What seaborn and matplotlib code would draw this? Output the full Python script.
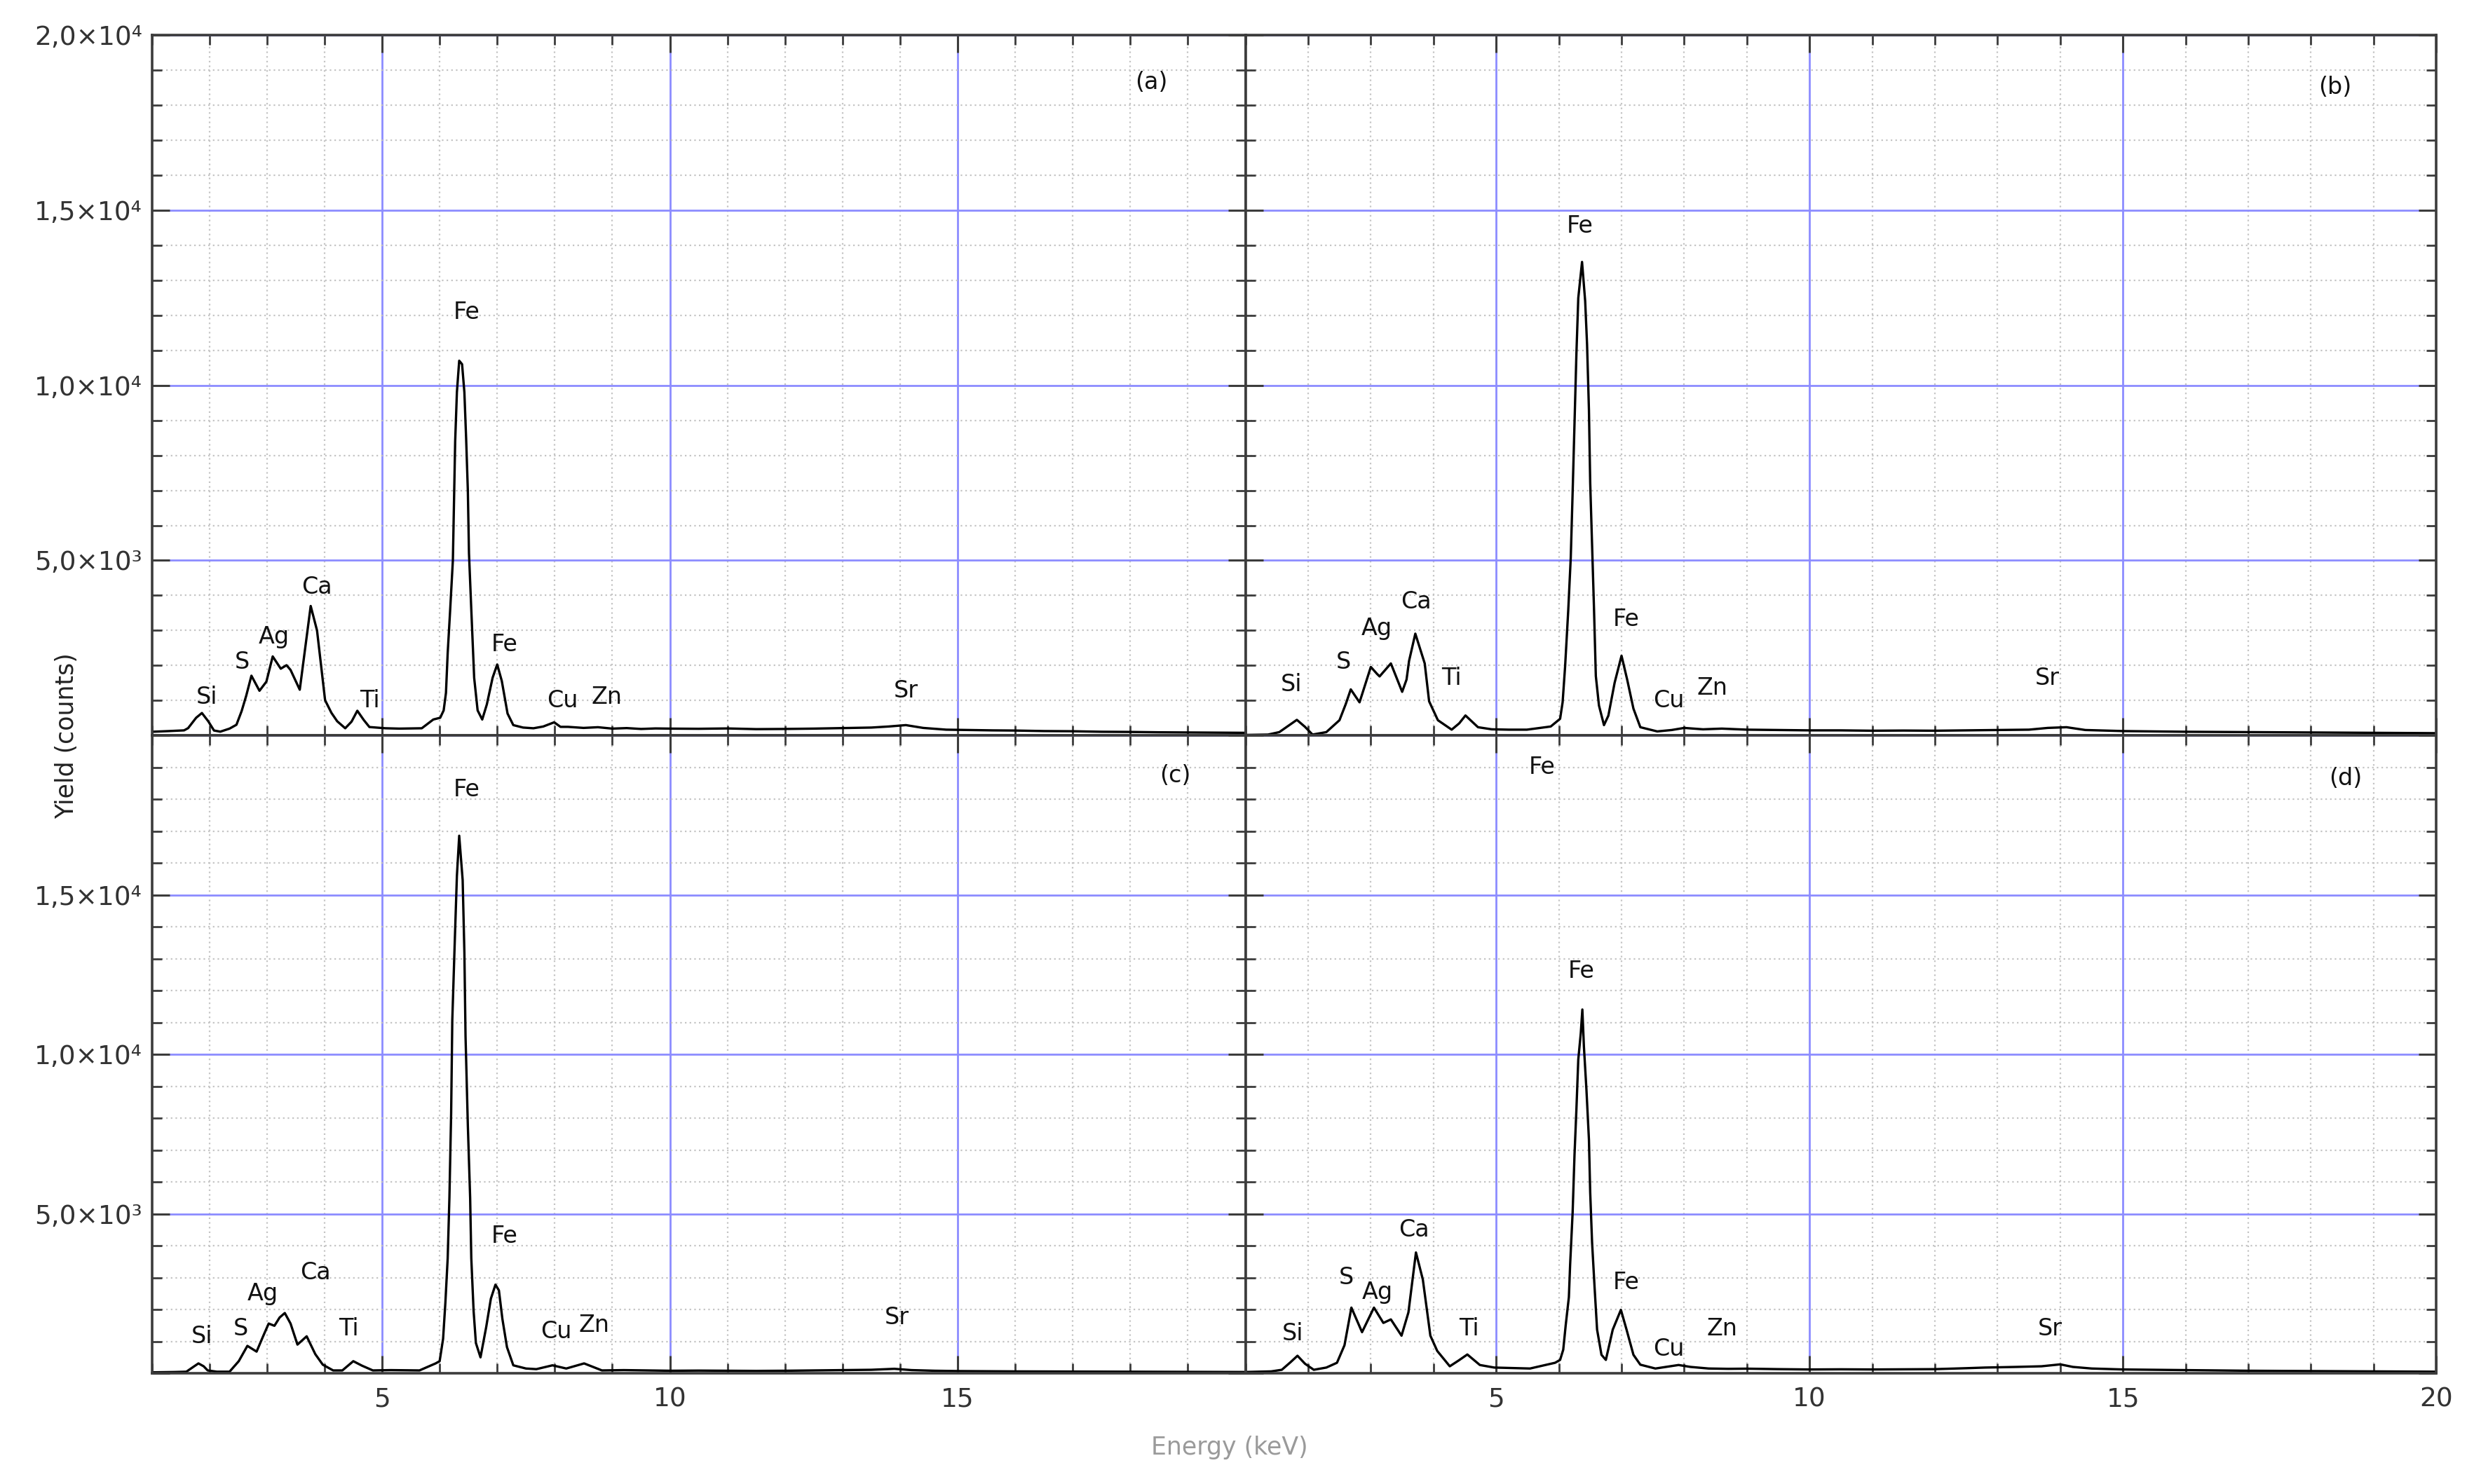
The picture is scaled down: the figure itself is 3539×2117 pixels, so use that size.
import numpy as np
import pandas as pd
import matplotlib
matplotlib.use("Agg")
import matplotlib.pyplot as plt
import seaborn as sns
from matplotlib.ticker import MultipleLocator, FuncFormatter

# ---------------- data ----------------
energy_a = [1.0, 1.3, 1.56, 1.63, 1.77, 1.87, 1.98, 2.08, 2.19, 2.35, 2.47, 2.56, 2.64, 2.73, 2.87,
            2.99, 3.10, 3.24, 3.34, 3.41, 3.57, 3.62, 3.76, 3.87, 4.01, 4.12, 4.22, 4.36, 4.47, 4.57,
            4.68, 4.78, 5.06, 5.3, 5.5, 5.69, 5.89, 6.01, 6.07, 6.11, 6.14, 6.18, 6.23, 6.25, 6.27,
            6.30, 6.34, 6.39, 6.43, 6.46, 6.49, 6.51, 6.55, 6.60, 6.66, 6.74, 6.82, 6.92, 7.00, 7.08,
            7.18, 7.28, 7.45, 7.63, 7.8, 7.99, 8.1, 8.23, 8.5, 8.75, 9.0, 9.25, 9.5, 9.75, 10.0,
            10.5, 11.0, 11.5, 12.0, 12.5, 13.0, 13.5, 13.8, 14.1, 14.4, 14.8, 15.2, 15.6, 16.0, 16.5,
            17.0, 17.5, 18.0, 18.5, 19.0, 19.5, 20.0]
counts_a = [110, 130, 150, 213, 510, 645, 410, 146, 113, 200, 310, 700, 1140, 1710, 1280,
            1540, 2260, 1910, 2010, 1875, 1310, 1940, 3700, 3000, 1010, 650, 410, 210, 400, 710,
            450, 245, 210, 200, 205, 210, 460, 510, 720, 1220, 2360, 3500, 5000, 6700, 8400,
            9800, 10700, 10600, 9800, 8500, 7000, 5200, 3600, 1650, 720, 460, 890, 1650, 2030, 1560,
            630, 300, 230, 210, 260, 380, 250, 250, 220, 240, 200, 215, 190, 205, 200,
            195, 205, 185, 190, 200, 215, 230, 260, 300, 220, 170, 160, 150, 145, 130,
            125, 110, 105, 95, 90, 85, 80]

energy_b = [1.0, 1.36, 1.54, 1.7, 1.82, 1.95, 2.07, 2.29, 2.5, 2.6, 2.68, 2.82, 3.0, 3.1, 3.14,
            3.32, 3.5, 3.57, 3.61, 3.71, 3.86, 3.93, 4.07, 4.29, 4.41, 4.51, 4.71, 4.93, 5.2, 5.49,
            5.87, 6.02, 6.06, 6.10, 6.15, 6.19, 6.22, 6.25, 6.28, 6.31, 6.37, 6.42, 6.45, 6.48, 6.50,
            6.53, 6.56, 6.59, 6.64, 6.72, 6.79, 6.89, 7.0, 7.09, 7.19, 7.30, 7.57, 7.8, 8.0, 8.3,
            8.6, 9.0, 9.5, 10.0, 10.5, 11.0, 11.5, 12.0, 12.5, 13.0, 13.5, 13.8, 14.1, 14.4, 15.0,
            15.5, 16.0, 17.0, 18.0, 19.0, 20.0]
counts_b = [20, 30, 100, 300, 450, 250, 30, 100, 440, 900, 1320, 950, 1960, 1760, 1690,
            2060, 1250, 1600, 2130, 2910, 2060, 980, 440, 170, 350, 575, 240, 180, 170, 170,
            260, 480, 950, 1980, 3580, 5080, 6950, 8920, 10890, 12490, 13520, 12400, 11170, 9300, 7230,
            5450, 3670, 1700, 860, 300, 570, 1510, 2280, 1600, 770, 240, 120, 160, 220, 180,
            200, 170, 160, 150, 150, 140, 145, 140, 150, 160, 170, 220, 240, 160, 130,
            120, 110, 100, 90, 80, 70]

energy_c = [1.0, 1.4, 1.6, 1.72, 1.81, 1.9, 1.97, 2.13, 2.35, 2.51, 2.66, 2.82, 2.94, 3.03, 3.13,
            3.22, 3.31, 3.41, 3.53, 3.69, 3.84, 3.97, 4.15, 4.31, 4.5, 4.65, 4.84, 5.15, 5.65, 5.93,
            6.0, 6.06, 6.10, 6.14, 6.17, 6.20, 6.22, 6.26, 6.30, 6.34, 6.40, 6.43, 6.45, 6.49, 6.53,
            6.55, 6.59, 6.63, 6.71, 6.81, 6.89, 6.97, 7.03, 7.09, 7.17, 7.28, 7.5, 7.68, 7.96, 8.2,
            8.51, 8.82, 9.2, 9.6, 10.0, 10.5, 11.0, 11.5, 12.0, 12.5, 13.0, 13.5, 13.9, 14.2, 14.6,
            15.0, 16.0, 17.0, 18.0, 19.0, 20.0]
counts_c = [30, 40, 50, 200, 310, 220, 90, 50, 50, 380, 860, 680, 1190, 1560, 1490,
            1750, 1890, 1560, 900, 1160, 600, 270, 90, 90, 380, 240, 90, 100, 90, 310,
            380, 1080, 2220, 3610, 5510, 8160, 11080, 13380, 15600, 16860, 15470, 13200, 10570, 7780, 5510,
            3610, 1960, 950, 500, 1460, 2340, 2780, 2600, 1710, 820, 250, 150, 130, 250, 150,
            310, 90, 100, 90, 80, 85, 80, 75, 80, 90, 100, 110, 140, 100, 80,
            70, 60, 55, 50, 45, 40]

energy_d = [1.0, 1.41, 1.58, 1.72, 1.83, 1.95, 2.09, 2.29, 2.46, 2.58, 2.69, 2.86, 3.05, 3.2, 3.32,
            3.49, 3.6, 3.72, 3.83, 3.95, 4.06, 4.26, 4.4, 4.54, 4.74, 4.97, 5.54, 5.94, 6.02, 6.07,
            6.11, 6.16, 6.18, 6.22, 6.25, 6.28, 6.31, 6.35, 6.375, 6.40, 6.44, 6.48, 6.50, 6.53, 6.57,
            6.61, 6.68, 6.75, 6.86, 6.99, 7.08, 7.19, 7.30, 7.54, 7.91, 8.1, 8.39, 8.7, 9.0, 9.5,
            10.0, 10.5, 11.0, 11.5, 12.0, 12.5, 12.8, 13.3, 13.7, 14.0, 14.2, 14.5, 15.0, 15.5, 16.0,
            16.5, 17.0, 17.5, 18.0, 18.5, 19.0, 19.5, 20.0]
counts_d = [40, 60, 110, 350, 550, 300, 110, 180, 330, 880, 2060, 1290, 2060, 1580, 1690,
            1180, 1910, 3790, 2940, 1180, 700, 220, 400, 590, 260, 180, 150, 330, 420, 740,
            1520, 2390, 3410, 5050, 6860, 8270, 9840, 10670, 11410, 10240, 8900, 7330, 5680, 4110, 2700,
            1370, 580, 420, 1370, 1990, 1370, 580, 270, 150, 260, 200, 150, 140, 145, 130,
            120, 125, 120, 125, 130, 160, 180, 200, 220, 280, 200, 150, 120, 110, 100,
            90, 80, 75, 70, 65, 60, 55, 50]

# peak labels: (text, energy, counts)
labels_a = [("Si", 1.96, 1090), ("S", 2.57, 2090), ("Ag", 3.12, 2820), ("Ca", 3.87, 4230),
            ("Ti", 4.78, 1000), ("Fe", 6.47, 12090), ("Fe", 7.13, 2590), ("Cu", 8.13, 1000),
            ("Zn", 8.9, 1090), ("Sr", 14.1, 1270)]
labels_b = [("Si", 1.73, 1450), ("S", 2.56, 2090), ("Ag", 3.09, 3050), ("Ca", 3.72, 3820),
            ("Ti", 4.29, 1640), ("Fe", 6.34, 14550), ("Fe", 7.07, 3320), ("Cu", 7.75, 1000),
            ("Zn", 8.45, 1360), ("Sr", 13.79, 1640)]
labels_c = [("Si", 1.87, 1150), ("S", 2.54, 1400), ("Ag", 2.93, 2500), ("Ca", 3.84, 3150),
            ("Ti", 4.42, 1400), ("Fe", 6.47, 18300), ("Fe", 7.13, 4300), ("Cu", 8.02, 1300),
            ("Zn", 8.68, 1500), ("Sr", 13.94, 1750)]
labels_d = [("Si", 1.75, 1250), ("S", 2.61, 3000), ("Ag", 3.11, 2550), ("Ca", 3.69, 4500),
            ("Ti", 4.57, 1400), ("Fe", 5.73, 19000), ("Fe", 6.36, 12600), ("Fe", 7.07, 2850),
            ("Cu", 7.75, 750), ("Zn", 8.6, 1400), ("Sr", 13.84, 1400)]
panel_tags = ["(a)", "(b)", "(c)", "(d)"]
tag_pos = [(18.36, 18640), (18.38, 18500), (18.78, 18750), (18.55, 18650)]

ytick_text = {5000: "5,0×10³", 10000: "1,0×10⁴", 15000: "1,5×10⁴", 20000: "2,0×10⁴"}

# ---------------- figure ----------------
sns.set_theme(style="white")
plt.rcParams["font.family"] = ["DejaVu Sans"]

W, H, DPI = 3539, 2117, 200
fig = plt.figure(figsize=(W / DPI, H / DPI), dpi=DPI)
fig.patch.set_facecolor("white")

xl, xm, xr = 0.0612, 0.502, 0.982
yb, ym, yt = 0.0746, 0.5043, 0.9765
rects = [[xl, ym, xm - xl, yt - ym], [xm, ym, xr - xm, yt - ym],
         [xl, yb, xm - xl, ym - yb], [xm, yb, xr - xm, ym - yb]]
series = [(energy_a, counts_a), (energy_b, counts_b), (energy_c, counts_c), (energy_d, counts_d)]
all_labels = [labels_a, labels_b, labels_c, labels_d]

for i, (rect, (E, C), labs) in enumerate(zip(rects, series, all_labels)):
    ax = fig.add_axes(rect)
    df = pd.DataFrame({"Energy": E, "Counts": C})
    sns.lineplot(data=df, x="Energy", y="Counts", ax=ax, color="black", lw=1.2,
                 estimator=None, sort=False)
    ax.set_xlim(1, 20)
    ax.set_ylim(0, 20000)
    ax.set_xlabel("")
    ax.set_ylabel("")
    ax.set_facecolor("white")
    ax.xaxis.set_major_locator(MultipleLocator(5))
    ax.xaxis.set_minor_locator(MultipleLocator(1))
    ax.yaxis.set_major_locator(MultipleLocator(5000))
    ax.yaxis.set_minor_locator(MultipleLocator(1000))
    ax.grid(which="major", color="#8c8cff", lw=1.0, ls="-")
    ax.grid(which="minor", color="#c4c4c4", lw=0.8, ls=(0, (1, 2)))
    ax.set_axisbelow(True)
    for sp in ax.spines.values():
        sp.set_color("#3c3c3c")
        sp.set_linewidth(1.3)
    ax.tick_params(which="both", direction="in", top=True, right=True, bottom=True, left=True,
                   colors="#3c3c3c", labelcolor="#333333", labelsize=13.5)
    ax.tick_params(which="major", length=9, width=1.1)
    ax.tick_params(which="minor", length=5, width=1.0)
    ax.tick_params(axis="y", pad=5)
    ax.tick_params(axis="x", pad=7)

    left = i in (0, 2)
    bottom = i in (2, 3)
    if left:
        top_max = 20000 if i == 0 else 15000
        ax.yaxis.set_major_formatter(FuncFormatter(
            lambda v, p, m=top_max: ytick_text.get(int(round(v)), "") if 0 < v <= m else ""))
    else:
        ax.yaxis.set_major_formatter(FuncFormatter(lambda v, p: ""))
    if bottom:
        xmax_lab = 15 if left else 20
        ax.xaxis.set_major_formatter(FuncFormatter(
            lambda v, p, m=xmax_lab: f"{int(round(v))}" if 0 < v <= m else ""))
    else:
        ax.xaxis.set_major_formatter(FuncFormatter(lambda v, p: ""))

    for name, e, c in labs:
        ax.text(e, c, name, ha="center", va="center", fontsize=12, color="#111111")
    ax.text(tag_pos[i][0], tag_pos[i][1], panel_tags[i], ha="center", va="center",
            fontsize=12, color="#111111")

fig.text(0.027, 0.504, "Yield (counts)", rotation=90, ha="center", va="center",
         fontsize=12.5, color="#222222")
fig.text(0.4955, 0.0245, "Energy (keV)", ha="center", va="center",
         fontsize=12.5, color="#9a9a9a")

fig.savefig("out.png", dpi=DPI, facecolor="white")
